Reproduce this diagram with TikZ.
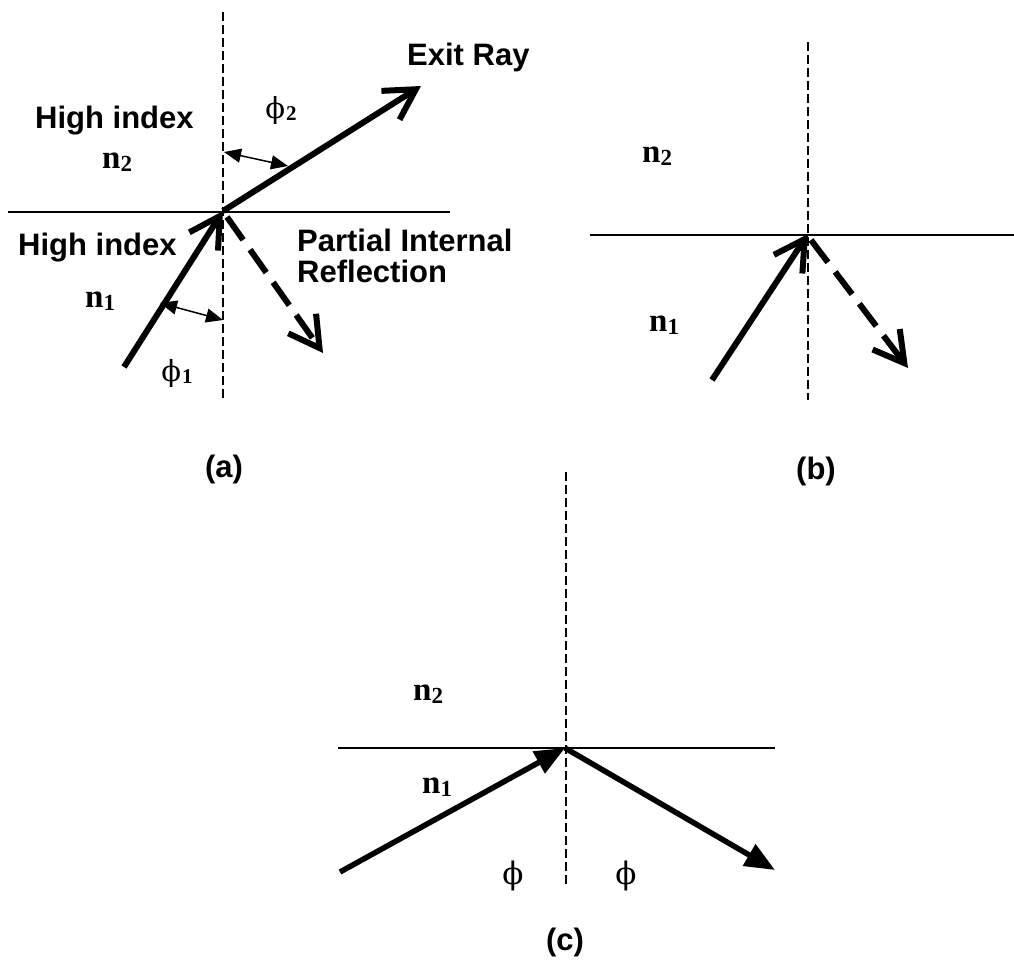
\documentclass[tikz,border=0pt]{standalone}
\usepackage{fontspec}
\setmainfont{Liberation Serif}
\newfontfamily\labfont{Liberation Sans}
\newfontfamily\phifont{DejaVu Serif}
\usetikzlibrary{arrows.meta}
\begin{document}
\begin{tikzpicture}[x=1pt,y=-1pt,
  lab/.style={font=\labfont\bfseries\fontsize{31}{34}\selectfont, inner sep=0pt},
  idx/.style={font=\bfseries\fontsize{33}{36}\selectfont, inner sep=0pt},
  ang/.style={font=\fontsize{29}{31}\selectfont, inner sep=0pt},
  angc/.style={font=\fontsize{31}{33}\selectfont, inner sep=0pt},
  iface/.style={line width=1.5pt},
  normalline/.style={line width=1.5pt, dash pattern=on 9pt off 4pt},
  ray/.style={line width=6pt, -{Straight Barb[length=30pt,width=34pt]}},
  dray/.style={line width=6pt, dash pattern=on 28pt off 12pt, -{Straight Barb[length=30pt,width=34pt]}},
  fray/.style={line width=5.5pt, -{Triangle[length=30pt,width=24pt]}},
  angarrow/.style={line width=1.5pt, {Triangle[length=17pt,width=14pt]}-{Triangle[length=17pt,width=14pt]}}
]
\useasboundingbox (0,0) rectangle (1014,959);
\newcommand{\nsub}[2]{\textbf{#1}\raisebox{-0.25ex}{\fontsize{23}{24}\selectfont\bfseries #2}}
\newcommand{\phig}{{\phifont\symbol{"03D5}}}
\newcommand{\phisub}[1]{\phig\kern1pt\raisebox{-0.15ex}{\fontsize{21}{22}\selectfont\bfseries #1}}

% ---------- panel (a) ----------
\coordinate (aT) at (223,12);
\coordinate (aB) at (223,398);
\coordinate (aL) at (8,212);
\coordinate (aR) at (450,212);
\coordinate (aO) at (223,211);
\coordinate (aIn) at (124,367);
\coordinate (aExit) at (421,86);
\coordinate (aRs) at (227,217);
\coordinate (aRe) at (323,353);
\coordinate (p2a) at (224,152);
\coordinate (p2b) at (288,166);
\coordinate (p1a) at (160,303);
\coordinate (p1b) at (223,320);

\draw[normalline] (aT) -- (aB);
\draw[iface] (aL) -- (aR);
\draw[ray] (aIn) -- (aO);
\draw[ray] (aO) -- (aExit);
\draw[dray] (aRs) -- (aRe);
\draw[angarrow] (p2a) -- (p2b);
\draw[angarrow] (p1a) -- (p1b);

\node[lab, anchor=base west] (hi2) at (35,128) {High index};
\node[idx, anchor=base west] (an2) at (102,168) {\nsub{n}{2}};
\node[lab, anchor=base west] (hi1) at (18,255) {High index};
\node[idx, anchor=base west] (an1) at (85,307) {\nsub{n}{1}};
\node[ang] (aphi1) at (177,373) {\phisub{1}};
\node[ang] (aphi2) at (281,110) {\phisub{2}};
\node[lab, anchor=base west] (exit) at (407,65) {Exit Ray};
\node[lab, anchor=base west] (pir1) at (297,251) {Partial Internal};
\node[lab, anchor=base west] (pir2) at (297,282) {Reflection};
\node[lab] (capa) at (224,469) {(a)};

% ---------- panel (b) ----------
\coordinate (bT) at (808,42);
\coordinate (bB) at (808,400);
\coordinate (bL) at (590,235);
\coordinate (bR) at (1014,235);
\coordinate (bO) at (808,234);
\coordinate (bIn) at (712,380);
\coordinate (bRs) at (811,240);
\coordinate (bRe) at (908,368);

\draw[normalline] (bT) -- (bB);
\draw[iface] (bL) -- (bR);
\draw[ray] (bIn) -- (bO);
\draw[dray] (bRs) -- (bRe);

\node[idx, anchor=base west] (bn2) at (642,162) {\nsub{n}{2}};
\node[idx, anchor=base west] (bn1) at (649,331) {\nsub{n}{1}};
\node[lab] (capb) at (816,471) {(b)};

% ---------- panel (c) ----------
\coordinate (cT) at (566,472);
\coordinate (cB) at (566,884);
\coordinate (cL) at (338,748);
\coordinate (cR) at (775,748);
\coordinate (cO) at (565,748);
\coordinate (cIn) at (340,872);
\coordinate (cOut) at (775,870);

\draw[normalline] (cT) -- (cB);
\draw[iface] (cL) -- (cR);
\draw[fray] (cIn) -- (cO);
\draw[fray] (cO) -- (cOut);

\node[idx, anchor=base west] (cn2) at (413,700) {\nsub{n}{2}};
\node[idx, anchor=base west] (cn1) at (422,793) {\nsub{n}{1}};
\node[angc] (cphiL) at (513,876) {\phig};
\node[angc] (cphiR) at (626,876) {\phig};
\node[lab] (capc) at (565,942) {(c)};
\end{tikzpicture}
\end{document}
